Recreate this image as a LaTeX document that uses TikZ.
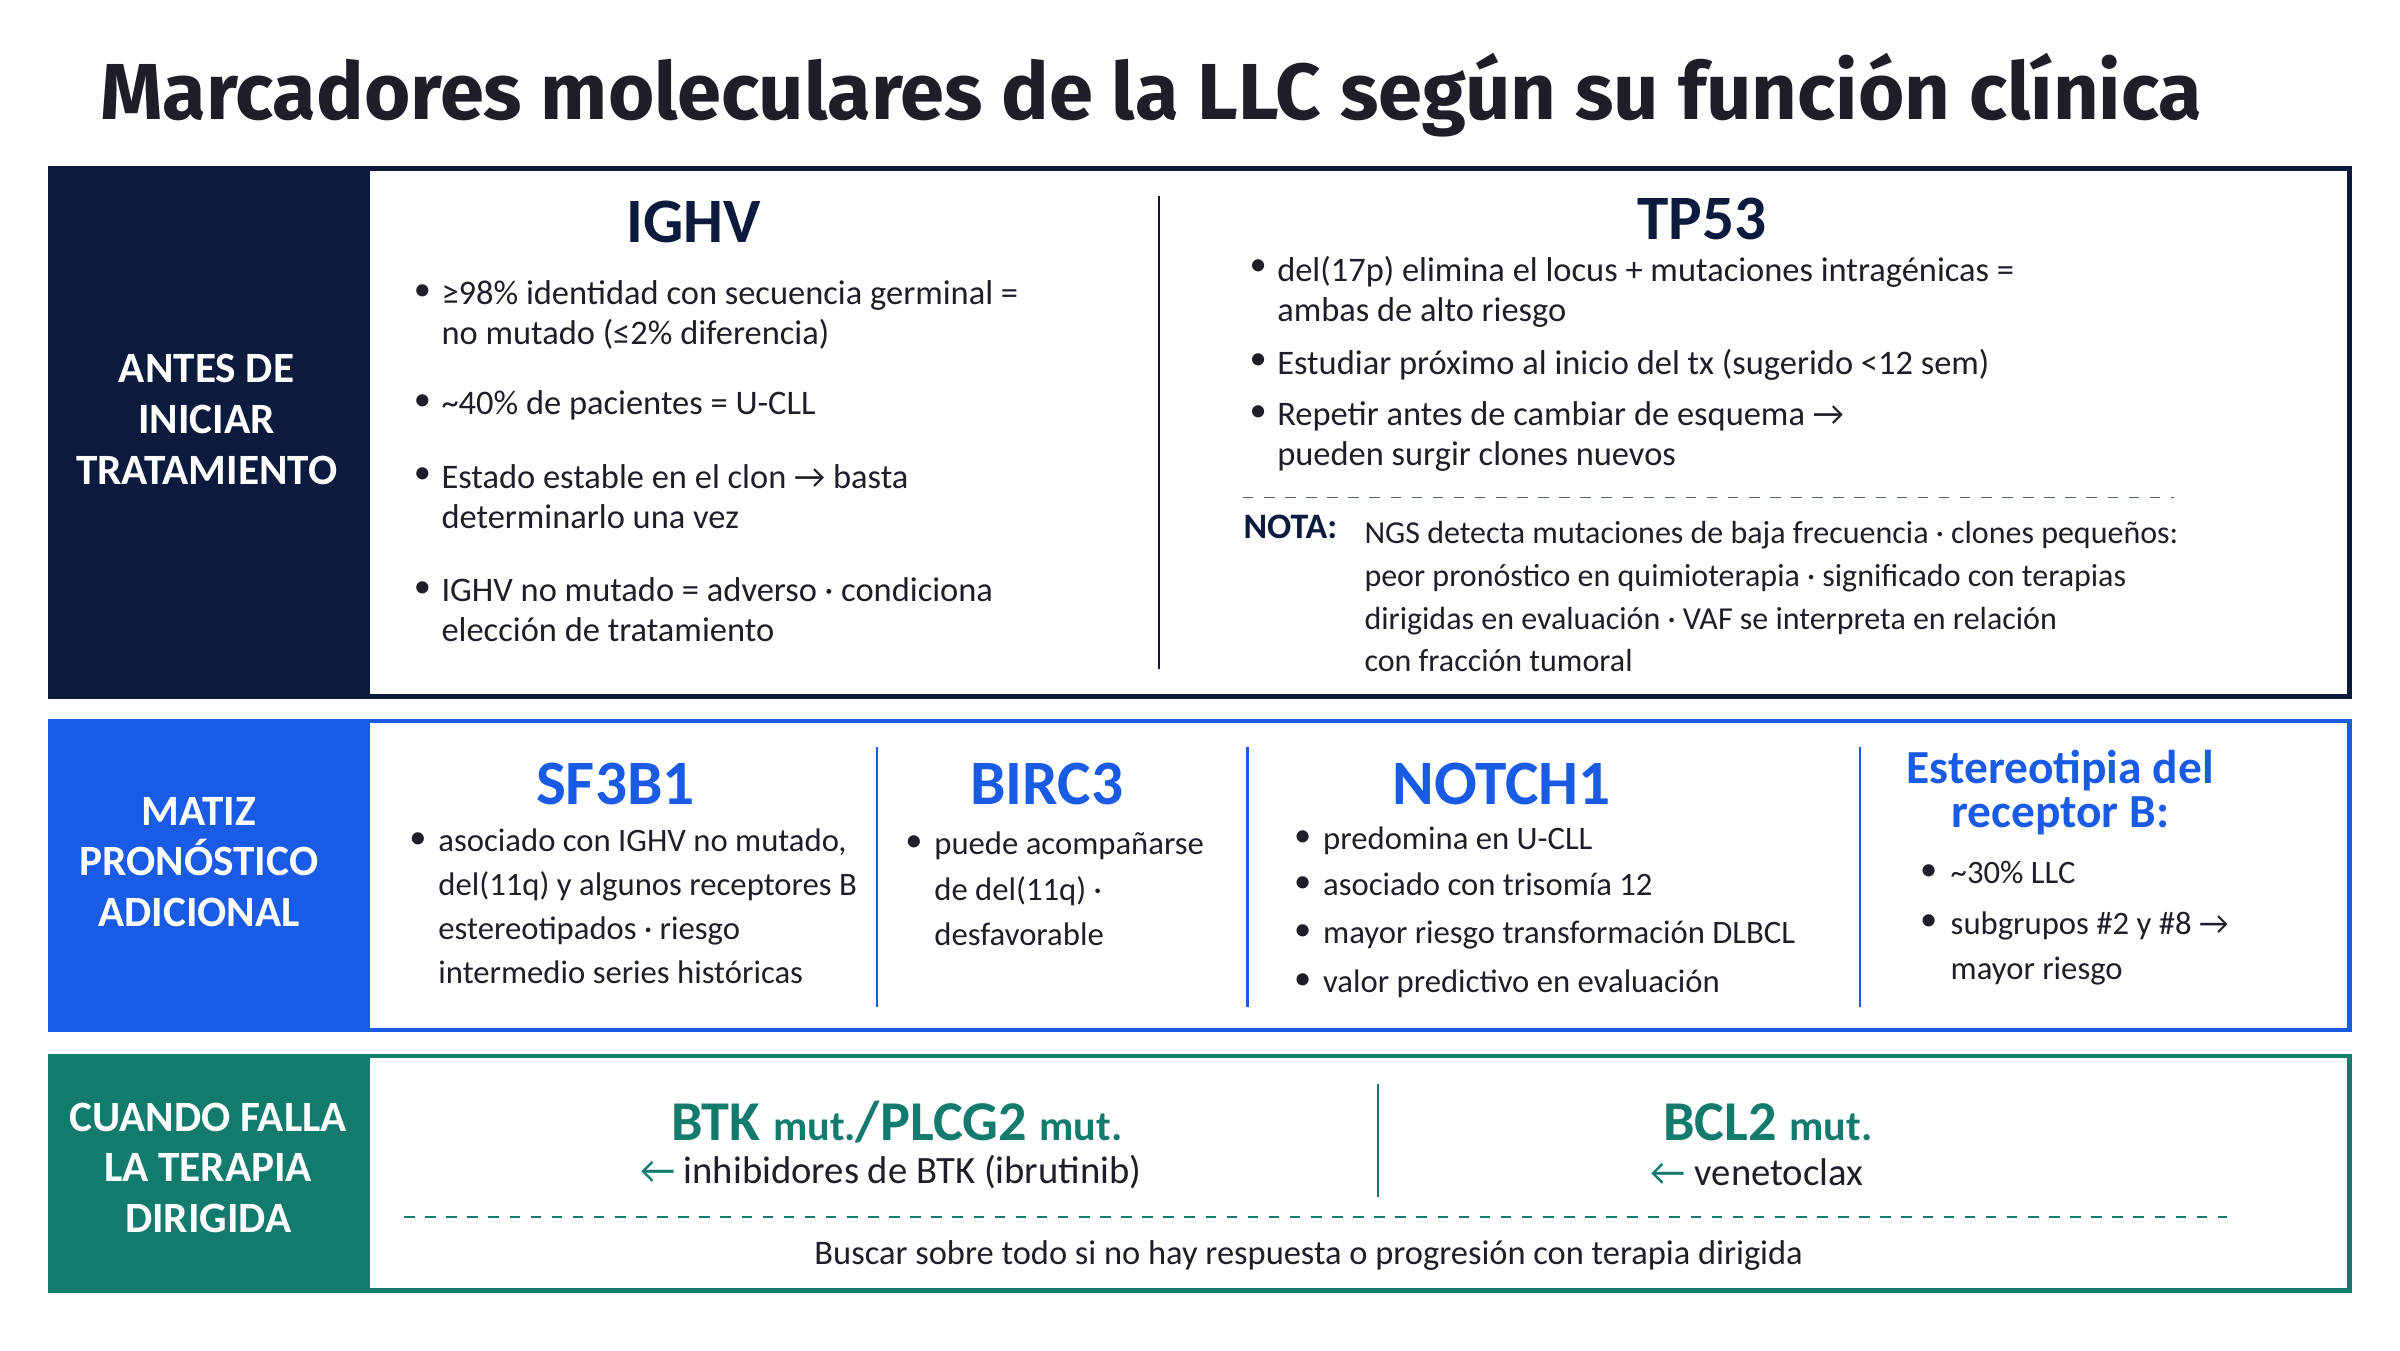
\documentclass[tikz,border=0pt]{standalone}
\usepackage{fontspec}
\setmainfont{Carlito}
\newfontfamily\titlefont{Fira Sans}
\begin{document}
\definecolor{navy}{HTML}{0C1A3D}
\definecolor{blu}{HTML}{1A5BE6}
\definecolor{teal}{HTML}{137A6E}
\definecolor{txt}{HTML}{1E1E28}
\begin{tikzpicture}[x=0.01531cm,y=-0.01531cm,
  body/.style={anchor=north west,inner sep=0,align=left,font=\fontsize{9.8}{11.3}\selectfont,text=txt},
  bul/.style={anchor=base west,inner sep=0,yshift=-1.8pt,font=\fontsize{9.8}{11.3}\selectfont,text=txt},
  lab/.style={align=center,text=white,font=\bfseries\fontsize{12.3}{14.4}\selectfont},
  head/.style={font=\bfseries\fontsize{18}{20}\selectfont},
  sep/.style={line width=0.6pt}]
\useasboundingbox (0,0) rectangle (1568,882);
\node[anchor=base west,inner sep=0,font=\titlefont\bfseries\fontsize{22.6}{24}\selectfont,text=txt] (title) at (65,78) {Marcadores moleculares de la LLC según su función clínica};
% row 1
\fill[navy] (33,110) rectangle (242,455);
\draw[navy,line width=1.3pt] (33,110) rectangle (1535,455);
\node[lab] (l1) at (135,274) {ANTES DE\\INICIAR\\TRATAMIENTO};
\draw[navy,sep] (757,128) -- (757,437);
\node[head,text=navy] (ighv) at (453,145) {IGHV};
\foreach \y/\t in {192/{≥98\% identidad con secuencia germinal =\\no mutado (≤2\% diferencia)},264/{\textasciitilde40\% de pacientes = U-CLL},312/{Estado estable en el clon → basta\\determinarlo una vez},386/{IGHV no mutado = adverso · condiciona\\elección de tratamiento}}{
 \node[bul] at (270,\y) {•}; \node[body] at (288,\y-9) {\t};}
\node[head,text=navy] (tp53) at (1112,143) {TP53};
\foreach \y/\t in {176/{del(17p) elimina el locus + mutaciones intragénicas =\\ambas de alto riesgo},237/{Estudiar próximo al inicio del tx (sugerido <12 sem)},271/{Repetir antes de cambiar de esquema →\\pueden surgir clones nuevos}}{
 \node[bul] at (816,\y) {•}; \node[body] at (834,\y-9) {\t};}
\draw[navy!70,dashed,line width=0.5pt] (812,325) -- (1420,325);
\node[anchor=base west,inner sep=0,font=\bfseries\fontsize{10.2}{12}\selectfont,text=navy] (nota) at (812,352) {NOTA:};
\node[body,font=\fontsize{9.1}{12.2}\selectfont] (nt) at (891,349-9) {NGS detecta mutaciones de baja frecuencia · clones pequeños:\\peor pronóstico en quimioterapia · significado con terapias\\dirigidas en evaluación · VAF se interpreta en relación\\con fracción tumoral};
% row 2
\fill[blu] (33,471) rectangle (242,673);
\draw[blu,line width=1.3pt] (33,471) rectangle (1535,673);
\node[lab] (l2) at (130,563) {MATIZ\\PRONÓSTICO\\ADICIONAL};
\foreach \x in {573,815,1215} \draw[blu,sep] (\x,488) -- (\x,658);
\node[head,text=blu] (sf) at (402,512) {SF3B1};
\node[bul] at (267,550) {•};
\node[body,font=\fontsize{9.3}{12.5}\selectfont] at (286,550-9) {asociado con IGHV no mutado,\\del(11q) y algunos receptores B\\estereotipados · riesgo\\intermedio series históricas};
\node[head,text=blu] (birc) at (684,512) {BIRC3};
\node[bul] at (591,552) {•};
\node[body,font=\fontsize{9.3}{13}\selectfont] at (610,552-9) {puede acompañarse\\de del(11q) ·\\desfavorable};
\node[head,text=blu] (notch) at (981,512) {NOTCH1};
\foreach \y/\t in {549/{predomina en U-CLL},579/{asociado con trisomía 12},610/{mayor riesgo transformación DLBCL},642/{valor predictivo en evaluación}}{
 \node[bul] at (845,\y) {•}; \node[body,font=\fontsize{9.3}{11.3}\selectfont] at (864,\y-9) {\t};}
\node[align=center,text=blu,font=\bfseries\fontsize{13.5}{12.6}\selectfont] (est) at (1346,518) {Estereotipia del\\receptor B:};
\foreach \y/\t in {571/{\textasciitilde30\% LLC},604/{subgrupos \#2 y \#8 →\\mayor riesgo}}{
 \node[bul] at (1254,\y) {•}; \node[body,font=\fontsize{9.3}{13}\selectfont] at (1274,\y-9) {\t};}
% row 3
\fill[teal] (33,690) rectangle (242,843);
\draw[teal,line width=1.3pt] (33,690) rectangle (1535,843);
\node[lab] (l3) at (136,763) {CUANDO FALLA\\LA TERAPIA\\DIRIGIDA};
\draw[teal,sep] (900,708) -- (900,782);
\node[text=teal,font=\bfseries\fontsize{16}{18}\selectfont] (btk) at (586,733) {BTK {\fontsize{12}{14}\selectfont mut.}/PLCG2 {\fontsize{12}{14}\selectfont mut.}};
\node[text=txt,font=\fontsize{11}{14}\selectfont] (btkt) at (582,766) {\textcolor{teal}{←} inhibidores de BTK (ibrutinib)};
\node[text=teal,font=\bfseries\fontsize{16}{18}\selectfont] (bcl) at (1155,733) {BCL2 {\fontsize{12}{14}\selectfont mut.}};
\node[text=txt,font=\fontsize{11}{14}\selectfont] (bclt) at (1148,766) {\textcolor{teal}{←} venetoclax};
\draw[teal,dashed,line width=0.5pt] (264,795) -- (1455,795);
\node[text=txt,font=\fontsize{9.8}{12}\selectfont] (bot) at (855,820) {Buscar sobre todo si no hay respuesta o progresión con terapia dirigida};
\end{tikzpicture}
\end{document}
